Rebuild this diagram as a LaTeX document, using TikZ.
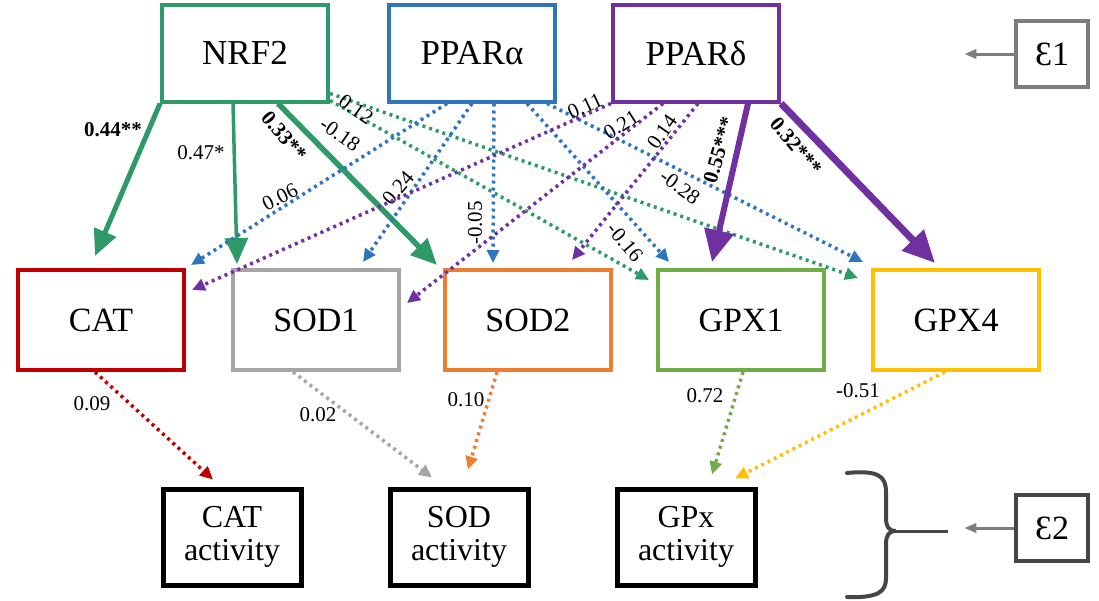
\documentclass[tikz,border=0pt]{standalone}
\usepackage{fontspec}
\setmainfont{Liberation Serif}
\usetikzlibrary{arrows.meta}
\definecolor{nrfgreen}{RGB}{46,154,104}
\definecolor{pparblue}{RGB}{47,117,190}
\definecolor{pparpurple}{RGB}{112,48,160}
\definecolor{catred}{RGB}{192,0,0}
\definecolor{sodgray}{RGB}{165,165,165}
\definecolor{sodorange}{RGB}{237,125,49}
\definecolor{gpxgreen}{RGB}{112,173,71}
\definecolor{gpxgold}{RGB}{255,192,0}
\definecolor{epsgray}{RGB}{125,125,125}
\definecolor{bracegray}{RGB}{70,70,70}

\begin{document}
\begin{tikzpicture}[x = 1pt, y = -1pt, line width = 1pt,
                    factor/.style   = {rectangle, draw, fill = white, line width = 4pt, minimum width = 166pt, minimum height = 97pt, inner sep = 0pt, align = center, font = \fontsize{35}{35}\selectfont},
                    enzyme/.style   = {factor, minimum height = 100pt, font = \fontsize{34}{34}\selectfont},
                    activity/.style = {factor, line width = 5pt, minimum width = 138pt, minimum height = 96pt, font = \fontsize{32}{33}\selectfont},
                    noise/.style    = {rectangle, draw, fill = white, line width = 3.5pt, minimum width = 72pt, minimum height = 66pt, inner sep = 0pt, font = \fontsize{34}{34}\selectfont},
                    strong/.style   = {-{Triangle[length = 26pt, width = 23pt]}},
                    heavy/.style    = {-{Triangle[length = 32pt, width = 29pt]}},
                    weak/.style     = {line width = 3.5pt, dash pattern = on 3pt off 4pt, -{Triangle[length = 13pt, width = 12pt]}},
                    noisearrow/.style = {line width = 3pt, draw = epsgray, -{Triangle[length = 12pt, width = 9pt]}},
                    coef/.style     = {inner sep = 0pt, text = black, font = \fontsize{21}{21}\selectfont},
                    coefb/.style    = {coef, font = \fontsize{21}{21}\selectfont\bfseries}
                    ]
    \useasboundingbox (0, 0) rectangle (1099, 600);

    % regulators
    \node[factor, draw = nrfgreen]   (nrf) at (245, 53) {NRF2};
    \node[factor, draw = pparblue]   (ppa) at (472, 53) {PPARα};
    \node[factor, draw = pparpurple] (ppd) at (696, 53) {PPARδ};

    % enzymes
    \node[enzyme, draw = catred]    (cat)  at (101, 320) {CAT};
    \node[enzyme, draw = sodgray]   (sod1) at (316, 320) {SOD1};
    \node[enzyme, draw = sodorange] (sod2) at (528, 320) {SOD2};
    \node[enzyme, draw = gpxgreen]  (gpx1) at (741, 320) {GPX1};
    \node[enzyme, draw = gpxgold]   (gpx4) at (956, 320) {GPX4};

    % activities
    \node[activity, draw = black] (catact) at (232, 537) {CAT\\activity};
    \node[activity, draw = black] (sodact) at (459, 537) {SOD\\activity};
    \node[activity, draw = black] (gpxact) at (686, 537) {GPx\\activity};

    % errors
    \node[noise, draw = epsgray]   (eps1) at (1052, 54)  {Ɛ1};
    \node[noise, draw = bracegray] (eps2) at (1052, 528) {Ɛ2};

    % NRF2
    \draw[strong, draw = nrfgreen, line width = 5pt] (nrf.south west) -- ([xshift = -6pt, yshift = 12pt]cat.north)
        node[coefb] at (113, 130) {0.44**};
    \draw[strong, draw = nrfgreen, line width = 3.5pt] ([xshift = -12pt]nrf.south) -- ([xshift = 6pt, yshift = 4pt]sod1.north west)
        node[coef] at (201, 153) {0.47*};
    \draw[strong, draw = nrfgreen, line width = 5.5pt] ([xshift = 33pt]nrf.south) -- ([xshift = -6pt, yshift = 3pt]sod2.north west)
        node[coefb, rotate = -50] at (284, 136) {0.33**};
    \draw[weak, draw = nrfgreen] ([yshift = 3pt]nrf.south east) -- ([xshift = -7pt, yshift = -12pt]gpx1.north west)
        node[coef, rotate = -35] at (340, 134) {-0.18};
    \draw[weak, draw = nrfgreen] ([yshift = 10pt]nrf.south east) -- ([xshift = -13pt, yshift = -10pt]gpx4.north west)
        node[coef, rotate = -35] at (356, 109) {0.12};

    % PPARalpha
    \draw[weak, draw = pparblue] ([xshift = -25pt]ppa.south) -- ([xshift = 5pt, yshift = 3pt]cat.north east)
        node[coef, rotate = 27] at (280, 197) {0.06};
    \draw[weak, draw = pparblue] (ppa.south) -- ([xshift = 47pt, yshift = 6pt]sod1.north)
        node[coef, rotate = 50] at (398, 188) {0.24};
    \draw[weak, draw = pparblue] ([xshift = 22pt]ppa.south) -- ([xshift = -35pt, yshift = 5pt]sod2.north)
        node[coef, rotate = 90] at (475, 223) {-0.05};
    \draw[weak, draw = pparblue] ([xshift = 55pt]ppa.south) -- ([xshift = -72pt, yshift = 6pt]gpx1.north)
        node[coef, rotate = -50] at (625, 242) {-0.16};
    \draw[weak, draw = pparblue] ([xshift = 75pt]ppa.south) -- ([xshift = -8pt, yshift = 6pt]gpx4.north west)
        node[coef, rotate = -36] at (680, 187) {-0.28};

    % PPARdelta
    \draw[weak, draw = pparpurple] (ppd.south west) -- ([xshift = 6pt, yshift = 30pt]cat.east)
        node[coef, rotate = 25] at (585, 106) {0.11};
    \draw[weak, draw = pparpurple] ([xshift = -33pt]ppd.south) -- ([xshift = 6pt, yshift = 17pt]sod1.east)
        node[coef, rotate = 32] at (621, 125) {0.21};
    \draw[weak, draw = pparpurple] ([xshift = 2pt]ppd.south) -- ([xshift = 44pt, yshift = 8pt]sod2.north)
        node[coef, rotate = 55] at (662, 132) {0.14};
    \draw[heavy, draw = pparpurple, line width = 6pt] ([xshift = 52pt]ppd.south) -- ([xshift = -29pt, yshift = 6pt]gpx1.north)
        node[coefb, rotate = 74] at (719, 150) {0.55***};
    \draw[heavy, draw = pparpurple, line width = 7pt] (ppd.south east) -- ([xshift = -21pt, yshift = 5pt]gpx4.north)
        node[coefb, rotate = -50] at (796, 146) {0.32***};

    % enzyme -> activity
    \draw[weak, draw = catred] ([xshift = -6pt]cat.south) -- ([xshift = -19pt, yshift = 7pt]catact.north)
        node[coef] at (92, 404) {0.09};
    \draw[weak, draw = sodgray] ([xshift = -23pt]sod1.south) -- ([xshift = -27pt, yshift = 9pt]sodact.north)
        node[coef] at (318, 415) {0.02};
    \draw[weak, draw = sodorange] ([xshift = -31pt]sod2.south) -- ([xshift = 9pt, yshift = 17pt]sodact.north)
        node[coef] at (466, 400) {0.10};
    \draw[weak, draw = gpxgreen] ([xshift = 2pt]gpx1.south) -- ([xshift = 26pt, yshift = 12pt]gpxact.north)
        node[coef] at (705, 396) {0.72};
    \draw[weak, draw = gpxgold] ([xshift = -11pt]gpx4.south) -- ([xshift = 49pt, yshift = 8pt]gpxact.north)
        node[coef] at (858, 391) {-0.51};

    % brace and error arrows
    \draw[line width = 4pt, draw = bracegray, line cap = round]
        (847, 473) .. controls (878, 470) and (886, 476) .. (886, 492) -- (886, 518)
        .. controls (886, 527) and (889, 531) .. (896, 531)
        .. controls (889, 531) and (886, 535) .. (886, 544) -- (886, 578)
        .. controls (886, 592) and (878, 598) .. (847, 597);
    \coordinate (bracetip) at (896, 531);
    \draw[line width = 3pt, draw = bracegray] (bracetip) -- ++(52, 0);
    \draw[noisearrow] (eps1.west) -- ++(-50, 0);
    \draw[noisearrow] (eps2.west) -- ++(-50, 0);
\end{tikzpicture}
\end{document}
